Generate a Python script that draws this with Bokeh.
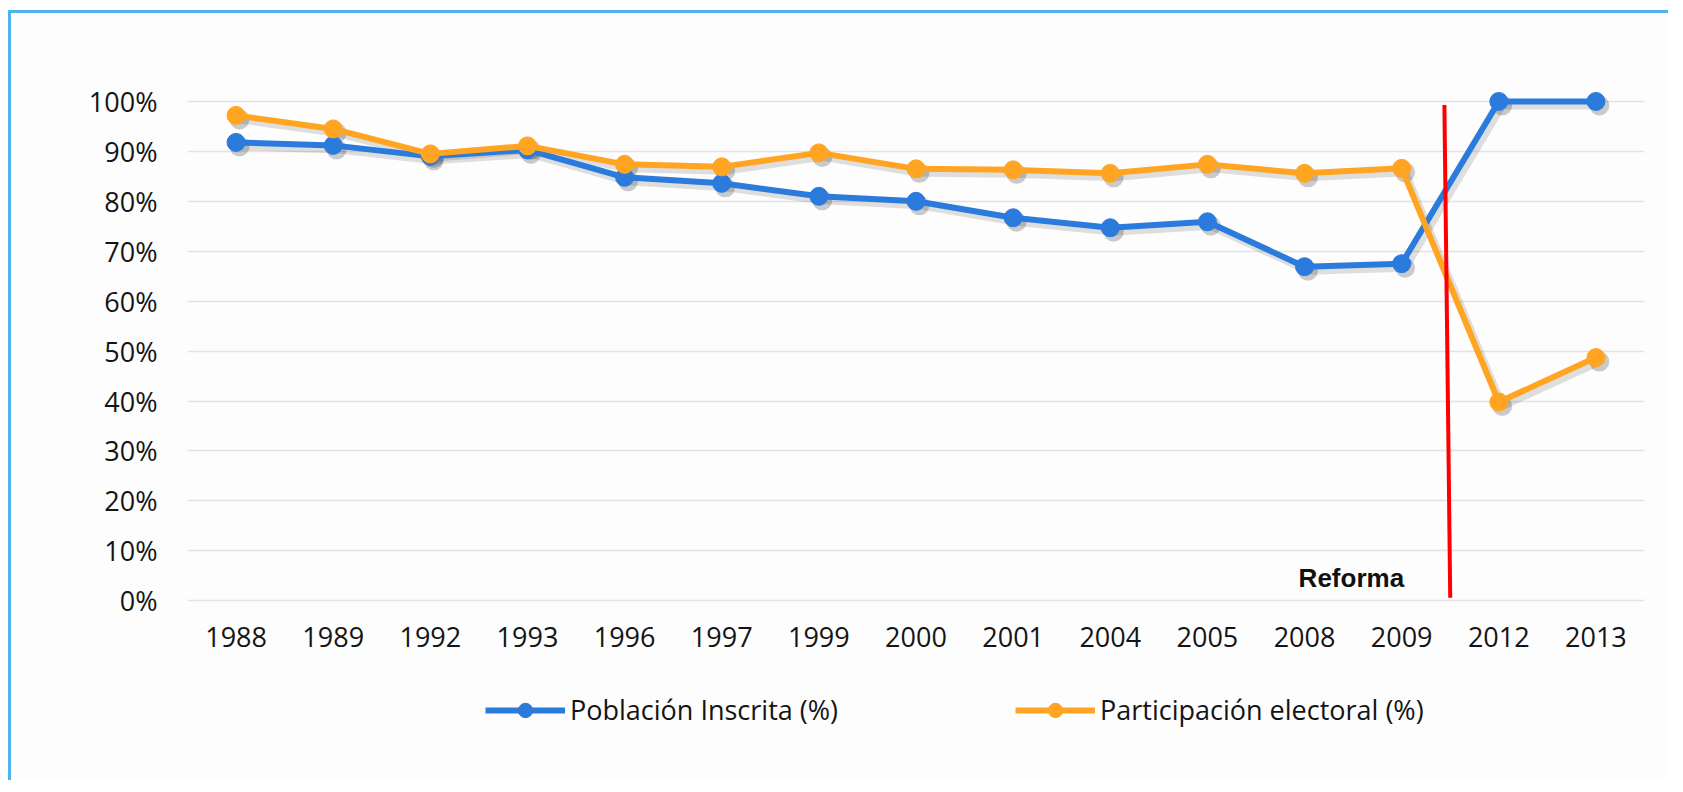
from bokeh.plotting import figure
from bokeh.models import (FactorRange, Range1d, FixedTicker, NumeralTickFormatter,
                          Legend, LegendItem, ColumnDataSource)
from bokeh.core.properties import value
from bokeh.embed import file_html
from bokeh.resources import INLINE

# ---------------- data ----------------
years = ["1988", "1989", "1992", "1993", "1996", "1997", "1999", "2000",
         "2001", "2004", "2005", "2008", "2009", "2012", "2013"]
poblacion_inscrita = [0.918, 0.912, 0.890, 0.903, 0.848, 0.836, 0.810, 0.800,
                      0.767, 0.747, 0.759, 0.669, 0.675, 1.000, 1.000]
participacion_electoral = [0.972, 0.945, 0.895, 0.911, 0.874, 0.869, 0.897, 0.865,
                           0.863, 0.856, 0.874, 0.856, 0.866, 0.398, 0.487]
series_names = ["Población Inscrita (%)", "Participación electoral (%)"]
y_ticks = [0.0, 0.1, 0.2, 0.3, 0.4, 0.5, 0.6, 0.7, 0.8, 0.9, 1.0]
reform_label = "Reforma"

# annotation placement (between 2009 and 2012)
reform_line_x = [("2009", 0.44), ("2009", 0.50)]
reform_line_y = [0.993, 0.006]
reform_label_x = [("2009", 0.025)]
reform_label_y = [0.045]

BLUE = "#2a7bdc"
ORANGE = "#ffa522"
FONT = "Open Sans"
BG = "#fdfdfd"

# soft drop shadow, offset a few pixels right/down from each series
shadow_dx = 0.035
shadow_dy = 0.008

src = ColumnDataSource(dict(
    year=years, pob=poblacion_inscrita, par=participacion_electoral,
    sx=[(y, shadow_dx) for y in years],
    spob=[v - shadow_dy for v in poblacion_inscrita],
    spar=[v - shadow_dy for v in participacion_electoral],
    base=[0.0] * len(years)))

# the frame reaches below 0 so that the category labels and legend live inside it
p = figure(x_range=FactorRange(factors=years, range_padding=0),
           y_range=Range1d(-0.32, 1.06),
           width=1660, height=770,
           output_backend="svg", toolbar_location=None,
           min_border_left=176, min_border_right=27,
           min_border_top=58, min_border_bottom=23)

p.styles = {"border-left": "3px solid #4db5ee", "border-top": "3px solid #4db5ee",
            "margin-left": "8px", "margin-top": "10px"}
p.background_fill_color = BG
p.border_fill_color = BG
p.outline_line_color = None

p.xgrid.grid_line_color = None
p.xaxis.visible = False
p.ygrid.ticker = FixedTicker(ticks=y_ticks)
p.ygrid.grid_line_color = "#e3e3e3"
p.ygrid.grid_line_width = 1.5

p.yaxis.ticker = FixedTicker(ticks=y_ticks)
p.yaxis.formatter = NumeralTickFormatter(format="0%")
ax = p.yaxis[0]
ax.axis_line_color = None
ax.major_tick_line_color = None
ax.minor_tick_line_color = None
ax.major_tick_out = 0
ax.major_tick_in = 0
ax.major_label_text_font = FONT
ax.major_label_text_font_size = "27px"
ax.major_label_text_color = "#141414"
ax.major_label_standoff = 30

# category labels under the 0% line
p.text(x="year", y="base", text="year", source=src, y_offset=26,
       text_font=value(FONT), text_font_size="27px", text_color="#141414",
       text_align="center", text_baseline="top")

for col in ("spob", "spar"):
    p.line("sx", col, source=src, line_color="#000000", line_alpha=0.12, line_width=8)
    p.scatter("sx", col, source=src, size=20, fill_color="#000000", fill_alpha=0.2,
              line_color=None)

b_line = p.line("year", "pob", source=src, line_color=BLUE, line_width=6)
b_pts = p.scatter("year", "pob", source=src, size=18, fill_color=BLUE, line_color=BLUE)
o_line = p.line("year", "par", source=src, line_color=ORANGE, line_width=6)
o_pts = p.scatter("year", "par", source=src, size=18, fill_color=ORANGE, line_color=ORANGE)

p.line(reform_line_x, reform_line_y, line_color="#ff0000", line_width=4)
p.text(x=reform_label_x, y=reform_label_y, text=[reform_label],
       text_font=value("Liberation Sans"), text_font_style="bold",
       text_font_size="26px", text_align="right", text_baseline="middle",
       text_color="#111111")

legend = Legend(items=[LegendItem(label=series_names[0], renderers=[b_line, b_pts]),
                       LegendItem(label=series_names[1], renderers=[o_line, o_pts])],
                orientation="horizontal", location=(298, 32),
                glyph_width=80, glyph_height=36, label_standoff=5, spacing=177,
                padding=0, margin=0, border_line_color=None, background_fill_alpha=0,
                label_text_font=FONT, label_text_font_size="27px",
                label_text_color="#141414")
p.add_layout(legend)

open("out.html", "w").write(file_html(p, INLINE))
